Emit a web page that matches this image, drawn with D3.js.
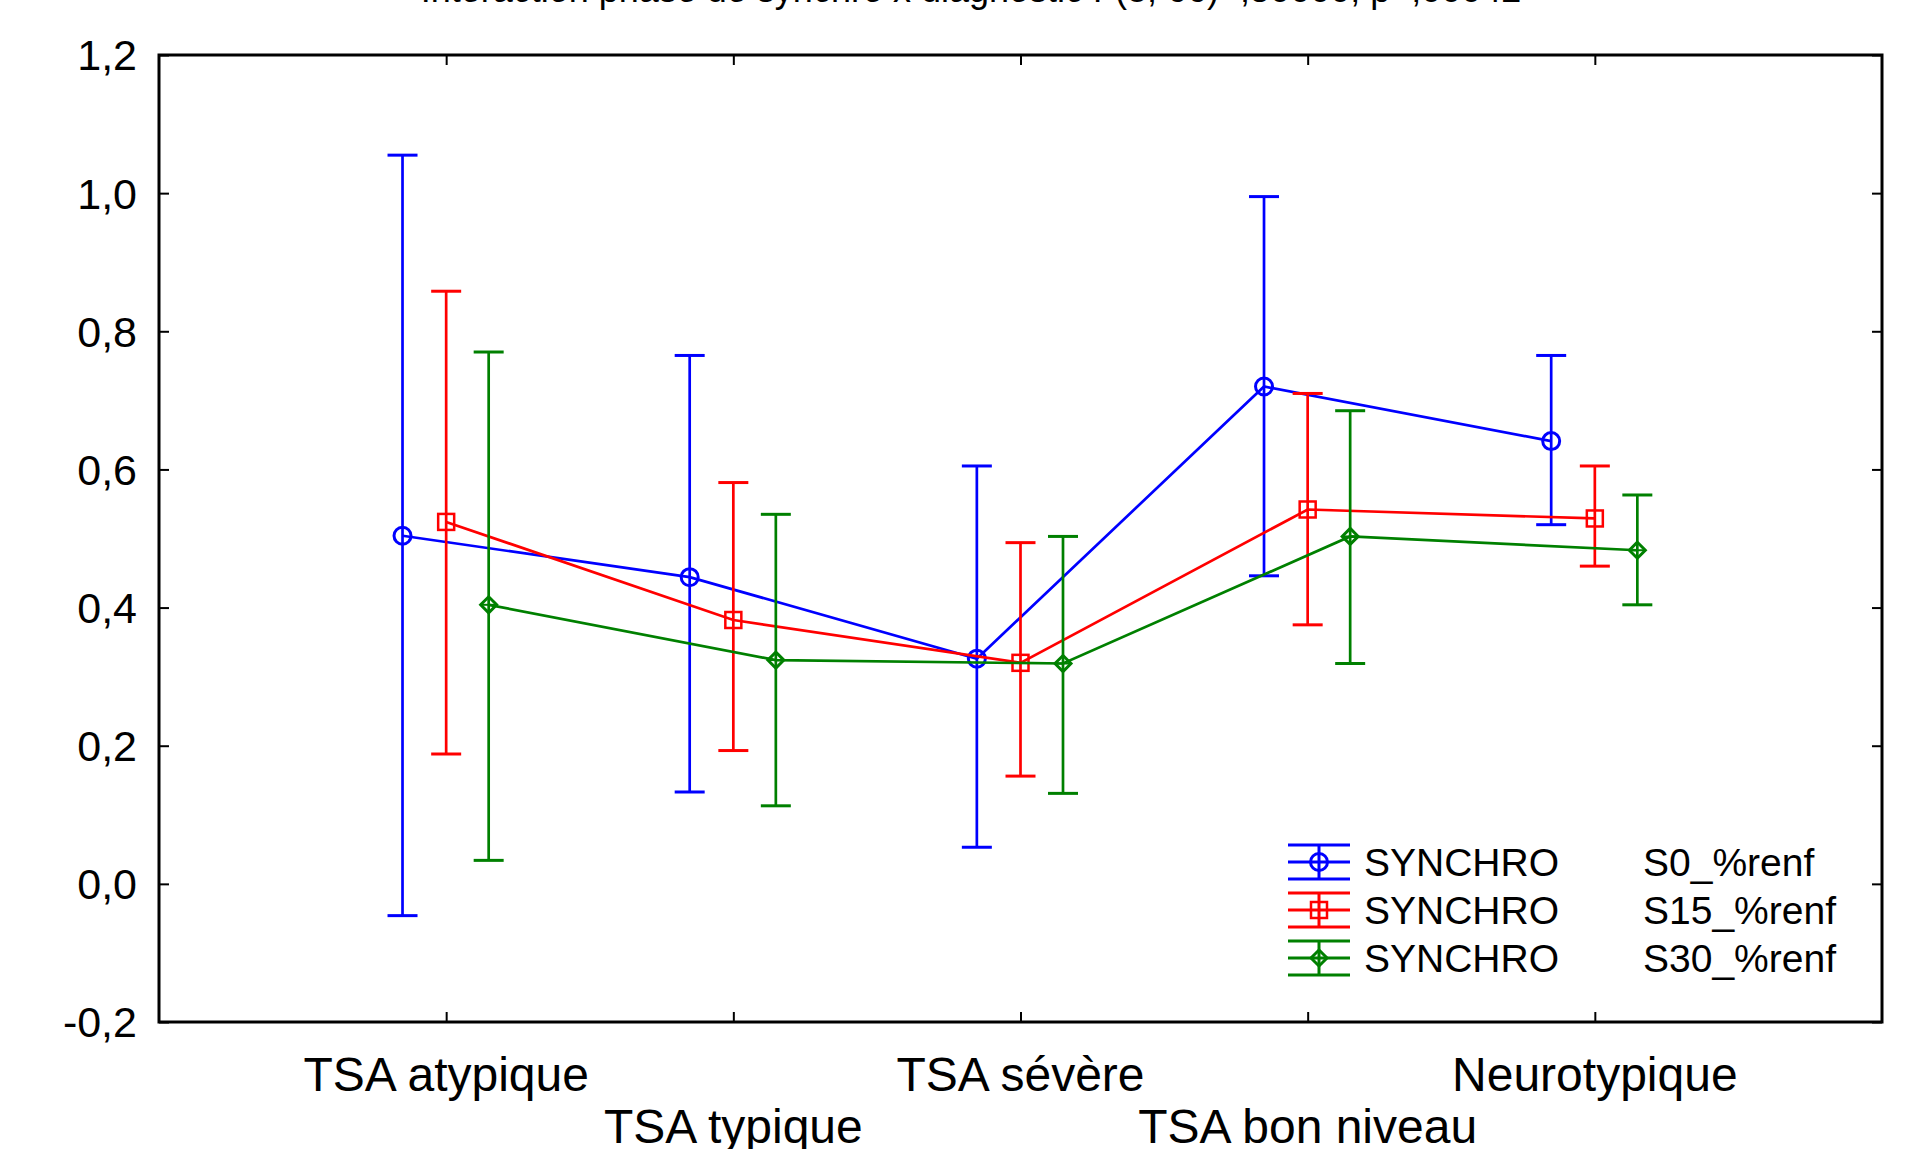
<!DOCTYPE html>
<html>
<head>
<meta charset="utf-8">
<script src="https://cdn.jsdelivr.net/npm/d3@7"></script>
<style>
  html, body { margin: 0; padding: 0; background: #fff; }
  svg { display: block; }
  text { font-family: "Liberation Sans", Arial, sans-serif; fill: #000; }
</style>
</head>
<body>
<svg id="chart" width="1915" height="1149"></svg>
<script>
// ---- Data ----
const titleText = "Interaction phase de synchro x diagnostic F(8, 66)=,50000, p=,00042";
const categories = ["TSA atypique", "TSA typique", "TSA sévère", "TSA bon niveau", "Neurotypique"];
const seriesNames = ["SYNCHRO", "SYNCHRO", "SYNCHRO"];
const seriesSuffix = ["S0_%renf", "S15_%renf", "S30_%renf"];
const yTicks = [-0.2, 0.0, 0.2, 0.4, 0.6, 0.8, 1.0, 1.2];

const s0Mean  = [0.504, 0.444, 0.326, 0.720, 0.641];
const s0Upper = [1.055, 0.765, 0.605, 0.995, 0.765];
const s0Lower = [-0.046, 0.133, 0.053, 0.446, 0.520];

const s15Mean  = [0.524, 0.382, 0.320, 0.542, 0.529];
const s15Upper = [0.858, 0.581, 0.494, 0.710, 0.605];
const s15Lower = [0.188, 0.193, 0.156, 0.375, 0.460];

const s30Mean  = [0.404, 0.324, 0.319, 0.503, 0.483];
const s30Upper = [0.770, 0.535, 0.503, 0.685, 0.563];
const s30Lower = [0.034, 0.113, 0.131, 0.319, 0.404];

const colors = ["#0000ff", "#ff0000", "#008000"];
const markers = ["circle", "square", "diamond"];
const offsets = [-0.152, 0, 0.148];

const series = [
  {mean: s0Mean, upper: s0Upper, lower: s0Lower},
  {mean: s15Mean, upper: s15Upper, lower: s15Lower},
  {mean: s30Mean, upper: s30Upper, lower: s30Lower}
];

// ---- Layout ----
const svg = d3.select("#chart");
const L = 159, R = 1882, T = 55, B = 1022;

const x = d3.scaleLinear().domain([0, categories.length + 1]).range([L, R]);
const y = d3.scaleLinear().domain([-0.2, 1.2]).range([B, T]);

// Title (cut at top, as in the original)
svg.append("text")
  .attr("x", (360 + 1582) / 2).attr("y", 2)
  .attr("text-anchor", "middle")
  .attr("font-size", 36)
  .text(titleText);

// Frame
svg.append("rect")
  .attr("x", L).attr("y", T).attr("width", R - L).attr("height", B - T)
  .attr("fill", "none").attr("stroke", "#000").attr("stroke-width", 3);

const fmt = v => d3.format(".1f")(v).replace(".", ",").replace("−", "-");

// Y axis (left) - ticks inward
const yAxisL = d3.axisRight(y).tickValues(yTicks).tickSize(10).tickFormat("");
svg.append("g").attr("transform", `translate(${L},0)`).call(yAxisL)
  .call(g => g.select(".domain").remove())
  .call(g => g.selectAll("line").attr("stroke", "#000").attr("stroke-width", 2));
svg.append("g").selectAll("text").data(yTicks).join("text")
  .attr("x", 137).attr("y", d => y(d)).attr("dy", "0.36em")
  .attr("text-anchor", "end").attr("font-size", 43)
  .text(d => fmt(d));

// Y axis (right) - ticks inward
const yAxisR = d3.axisLeft(y).tickValues(yTicks).tickSize(10).tickFormat("");
svg.append("g").attr("transform", `translate(${R},0)`).call(yAxisR)
  .call(g => g.select(".domain").remove())
  .call(g => g.selectAll("line").attr("stroke", "#000").attr("stroke-width", 2));

// X axis (bottom and top) ticks inward
const catIdx = categories.map((c, i) => i + 1);
const xAxisB = d3.axisTop(x).tickValues(catIdx).tickSize(10).tickFormat("");
svg.append("g").attr("transform", `translate(0,${B})`).call(xAxisB)
  .call(g => g.select(".domain").remove())
  .call(g => g.selectAll("line").attr("stroke", "#000").attr("stroke-width", 2));
const xAxisT = d3.axisBottom(x).tickValues(catIdx).tickSize(10).tickFormat("");
svg.append("g").attr("transform", `translate(0,${T})`).call(xAxisT)
  .call(g => g.select(".domain").remove())
  .call(g => g.selectAll("line").attr("stroke", "#000").attr("stroke-width", 2));

// Category labels (staggered)
svg.append("g").selectAll("text").data(categories).join("text")
  .attr("x", (d, i) => x(i + 1))
  .attr("y", (d, i) => i % 2 === 0 ? 1091 : 1143)
  .attr("text-anchor", "middle").attr("font-size", 48)
  .text(d => d);

// Marker drawing
function drawMarker(g, type, cx, cy, color) {
  if (type === "circle") {
    g.append("circle").attr("cx", cx).attr("cy", cy).attr("r", 8.5)
      .attr("fill", "none").attr("stroke", color).attr("stroke-width", 3);
  } else if (type === "square") {
    g.append("rect").attr("x", cx - 8).attr("y", cy - 8).attr("width", 16).attr("height", 16)
      .attr("fill", "none").attr("stroke", color).attr("stroke-width", 2.5);
  } else {
    const r = 8;
    g.append("path")
      .attr("d", `M${cx},${cy - r}L${cx + r},${cy}L${cx},${cy + r}L${cx - r},${cy}Z`)
      .attr("fill", "none").attr("stroke", color).attr("stroke-width", 3);
    g.append("line").attr("x1", cx - r).attr("x2", cx + r).attr("y1", cy).attr("y2", cy)
      .attr("stroke", color).attr("stroke-width", 2);
  }
}

const capW = 30;
const line = d3.line().x(d => x(d.i + 1 + d.off)).y(d => y(d.v));

series.forEach((s, k) => {
  const g = svg.append("g");
  const pts = s.mean.map((v, i) => ({i, v, off: offsets[k]}));
  g.append("path").datum(pts).attr("d", line)
    .attr("fill", "none").attr("stroke", colors[k]).attr("stroke-width", 2.7);
  s.mean.forEach((v, i) => {
    const cx = x(i + 1 + offsets[k]);
    g.append("line").attr("x1", cx).attr("x2", cx)
      .attr("y1", y(s.upper[i])).attr("y2", y(s.lower[i]))
      .attr("stroke", colors[k]).attr("stroke-width", 2.7);
    [s.upper[i], s.lower[i]].forEach(e => {
      g.append("line").attr("x1", cx - capW / 2).attr("x2", cx + capW / 2)
        .attr("y1", y(e)).attr("y2", y(e))
        .attr("stroke", colors[k]).attr("stroke-width", 3);
    });
    drawMarker(g, markers[k], cx, y(v), colors[k]);
  });
});

// Legend
const legX = 1288, legW = 62, legY0 = 862, legDy = 48;
series.forEach((s, k) => {
  const g = svg.append("g");
  const cy = legY0 + k * legDy;
  const cx = legX + legW / 2;
  [-17, 0, 17].forEach(dy => {
    g.append("line").attr("x1", legX).attr("x2", legX + legW)
      .attr("y1", cy + dy).attr("y2", cy + dy)
      .attr("stroke", colors[k]).attr("stroke-width", 3);
  });
  g.append("line").attr("x1", cx).attr("x2", cx).attr("y1", cy - 17).attr("y2", cy + 17)
    .attr("stroke", colors[k]).attr("stroke-width", 3);
  drawMarker(g, markers[k], cx, cy, colors[k]);
  g.append("text").attr("x", 1364).attr("y", cy + 14).attr("font-size", 39).text(seriesNames[k]);
  g.append("text").attr("x", 1643).attr("y", cy + 14).attr("font-size", 39).text(seriesSuffix[k]);
});
</script>
</body>
</html>
